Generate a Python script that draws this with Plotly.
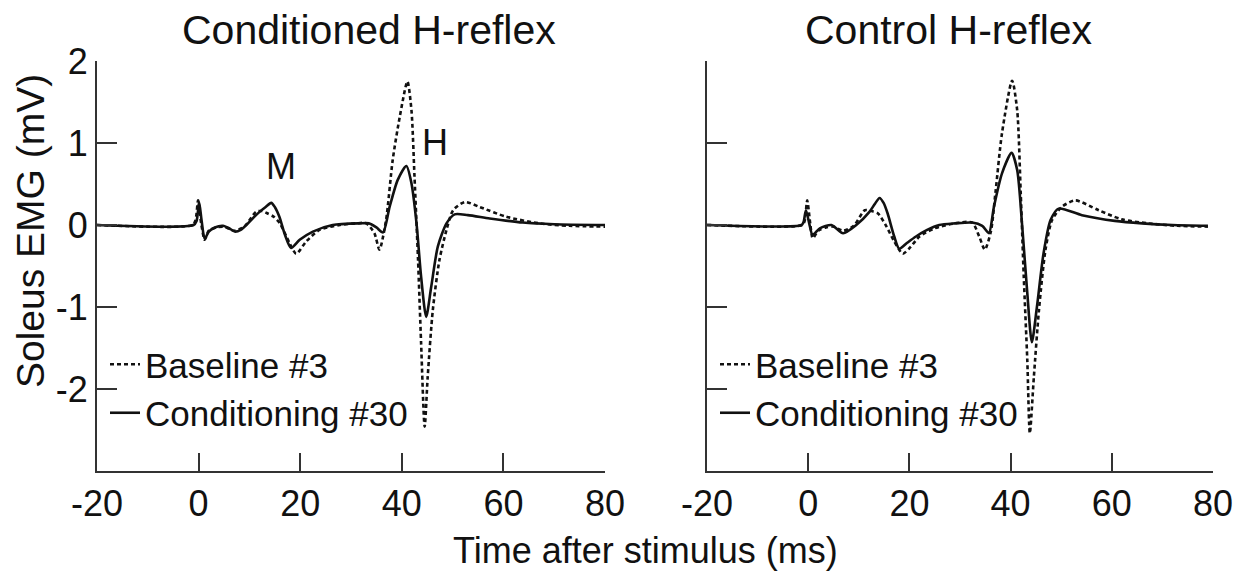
import plotly.graph_objects as go

W, H = 1257, 576
FONT = "Liberation Sans, Arial, sans-serif"

# ---------------- data ----------------
# Conditioned H-reflex panel
cond_base_t = [-20, -1.2, -0.6, -0.1, 0.5, 1.2, 2.0, 3.5, 5.0, 7.0, 9.0, 11.3, 12.5, 13.6, 14.8, 16.0, 17.9, 19.2,
               21.2, 23.8, 27.8, 31.0, 33.0, 34.6, 35.6, 36.9, 38.2, 39.6, 41.1, 41.9, 42.5, 43.2, 43.8, 44.5,
               45.1, 46.1, 47.4, 48.8, 50.1, 52.4, 55.3, 60.6, 67.1, 73.0, 80.0]
cond_base_v = [0.0, 0.0, 0.06, 0.30, 0.02, -0.18, -0.07, -0.03, -0.02, -0.07, -0.02, 0.16, 0.17, 0.14, 0.10, 0.02,
               -0.22, -0.35, -0.20, -0.06, 0.0, 0.02, 0.02, -0.10, -0.30, 0.06, 0.79, 1.32, 1.75, 1.40, 0.59,
               -0.43, -1.44, -2.46, -1.85, -1.04, -0.43, -0.06, 0.18, 0.28, 0.22, 0.10, 0.02, -0.01, -0.02]

cond_cond_t = [-20, -1.0, -0.4, 0.1, 0.6, 1.2, 2.0, 3.2, 4.8, 6.0, 7.1, 8.3, 9.4, 10.8, 12.0, 13.2, 14.3, 15.0,
               15.9, 17.0, 18.2, 19.9, 22.5, 26.4, 31.7, 33.5, 35.0, 36.3, 37.6, 39.2, 40.9, 41.9, 42.9, 43.8,
               44.8, 45.8, 47.1, 48.8, 50.4, 53.0, 57.3, 63.8, 70.0, 80.0]
cond_cond_v = [0.0, 0.0, 0.05, 0.28, 0.05, -0.17, -0.08, -0.03, -0.01, -0.04, -0.08, -0.06, 0.0, 0.09, 0.16, 0.22,
               0.27, 0.22, 0.10, -0.12, -0.28, -0.18, -0.08, 0.0, 0.02, 0.02, -0.03, -0.09, 0.22, 0.55, 0.72,
               0.51, 0.02, -0.63, -1.12, -0.75, -0.26, 0.02, 0.13, 0.12, 0.08, 0.03, 0.01, 0.0]

# Control H-reflex panel
ctrl_base_t = [-20, -1.2, -0.7, -0.2, 0.4, 0.9, 2.0, 3.5, 5.0, 6.9, 9.0, 11.2, 12.5, 13.8, 15.4, 17.0, 18.7,
               20.2, 22.0, 25.0, 29.0, 32.4, 33.8, 34.9, 36.1, 37.0, 38.3, 40.3, 41.3, 42.0, 42.6, 43.3, 43.8,
               44.6, 45.6, 46.9, 48.2, 50.1, 52.8, 57.4, 61.9, 67.1, 73.0, 79.0]
ctrl_base_v = [0.0, 0.0, 0.05, 0.30, 0.02, -0.16, -0.07, -0.03, -0.02, -0.07, -0.01, 0.18, 0.17, 0.14, -0.01,
               -0.20, -0.35, -0.27, -0.14, -0.04, 0.02, 0.03, -0.14, -0.30, -0.08, 0.39, 1.12, 1.76, 1.40, 0.39,
               -0.63, -1.65, -2.54, -1.85, -1.04, -0.30, 0.06, 0.22, 0.30, 0.18, 0.07, 0.02, -0.01, -0.02]

ctrl_cond_t = [-20, -1.3, -0.9, -0.45, 0.2, 0.86, 2.3, 4.6, 6.9, 9.5, 12.1, 13.2, 14.1, 14.9, 15.7, 17.0, 18.0,
               19.5, 21.3, 23.5, 25.9, 29.0, 32.4, 34.4, 35.7, 36.7, 38.3, 40.2, 41.3, 42.3, 43.3, 44.2, 45.2,
               46.5, 47.9, 49.5, 54.1, 60.6, 66.0, 72.0, 79.0]
ctrl_cond_v = [0.0, 0.0, 0.04, 0.18, 0.02, -0.12, -0.04, 0.0, -0.10, 0.0, 0.16, 0.26, 0.33, 0.27, 0.14, -0.14,
               -0.29, -0.22, -0.14, -0.06, 0.0, 0.02, 0.03, -0.01, -0.10, 0.22, 0.63, 0.88, 0.67, -0.02, -0.83,
               -1.43, -1.0, -0.35, 0.06, 0.20, 0.12, 0.05, 0.02, 0.0, -0.01]

x_ticks = [-20, 0, 20, 40, 60, 80]
x_tick_labels = ["-20", "0", "20", "40", "60", "80"]
y_ticks = [-2, -1, 0, 1, 2]
y_tick_labels = ["-2", "-1", "0", "1", "2"]
series_names = ["Baseline #3", "Conditioning #30"]
panel_titles = ["Conditioned H-reflex", "Control H-reflex"]

# ---------------- figure ----------------
fig = go.Figure()
LW = 2.6
dash_style = "4px,3px"

def add_panel(xa, ya, legend, base_t, base_v, c_t, c_v):
    fig.add_trace(go.Scatter(x=base_t, y=base_v, mode="lines", name=series_names[0],
                             line=dict(color="#111", width=LW, dash=dash_style, shape="spline", smoothing=0.7),
                             xaxis=xa, yaxis=ya, legend=legend))
    fig.add_trace(go.Scatter(x=c_t, y=c_v, mode="lines", name=series_names[1],
                             line=dict(color="#111", width=LW, shape="spline", smoothing=0.7),
                             xaxis=xa, yaxis=ya, legend=legend))

add_panel("x", "y", "legend", cond_base_t, cond_base_v, cond_cond_t, cond_cond_v)
add_panel("x2", "y2", "legend2", ctrl_base_t, ctrl_base_v, ctrl_cond_t, ctrl_cond_v)

ydom = [(H - 471) / H, (H - 61) / H]
axis_common = dict(showgrid=False, zeroline=False, showline=True, linecolor="#333", linewidth=2,
                   ticks="inside", tickcolor="#333", tickwidth=2, automargin=False,
                   tickfont=dict(family=FONT, size=36, color="#111"))

fig.update_layout(
    template="none",
    width=W, height=H, margin=dict(l=0, r=0, t=0, b=0, pad=0, autoexpand=False),
    paper_bgcolor="white", plot_bgcolor="white",
    font=dict(family=FONT, color="#111"),
    xaxis=dict(domain=[97 / W, 605 / W], range=[-20, 80], tickvals=x_ticks, ticktext=x_tick_labels,
               ticklen=18, anchor="y", **axis_common),
    yaxis=dict(domain=ydom, range=[-3, 2], tickvals=y_ticks, ticktext=y_tick_labels, ticklen=20, anchor="x",
               **axis_common),
    xaxis2=dict(domain=[707 / W, 1213 / W], range=[-20, 80], tickvals=x_ticks, ticktext=x_tick_labels,
                ticklen=18, anchor="y2", **axis_common),
    yaxis2=dict(domain=ydom, range=[-3, 2], tickvals=y_ticks, ticktext=y_tick_labels, ticklen=20, anchor="x2",
                showticklabels=False, **axis_common),
    legend=dict(x=105 / W, y=1 - 335 / H, xanchor="left", yanchor="top", bgcolor="rgba(0,0,0,0)",
                font=dict(family=FONT, size=35, color="#111"), tracegroupgap=0, borderwidth=0),
    legend2=dict(x=715 / W, y=1 - 335 / H, xanchor="left", yanchor="top", bgcolor="rgba(0,0,0,0)",
                 font=dict(family=FONT, size=35, color="#111"), tracegroupgap=0, borderwidth=0),
    showlegend=True,
)

anns = [
    dict(text=panel_titles[0], x=369 / W, y=1 - 30 / H, xref="paper", yref="paper", font=dict(size=41)),
    dict(text=panel_titles[1], x=949 / W, y=1 - 30 / H, xref="paper", yref="paper", font=dict(size=41)),
    dict(text="Time after stimulus (ms)", x=645 / W, y=1 - 550 / H, xref="paper", yref="paper",
         font=dict(size=36)),
    dict(text="Soleus EMG (mV)", x=30 / W, y=1 - 231 / H, xref="paper", yref="paper", textangle=-90,
         font=dict(size=39)),
    dict(text="M", x=16.3, y=0.71, xref="x", yref="y", font=dict(size=36)),
    dict(text="H", x=46.5, y=1.01, xref="x", yref="y", font=dict(size=36)),
]
for a in anns:
    a["font"].update(family=FONT, color="#111")
    a.update(showarrow=False, xanchor="center", yanchor="middle")
fig.update_layout(annotations=anns)

fig.write_html("out.html")
